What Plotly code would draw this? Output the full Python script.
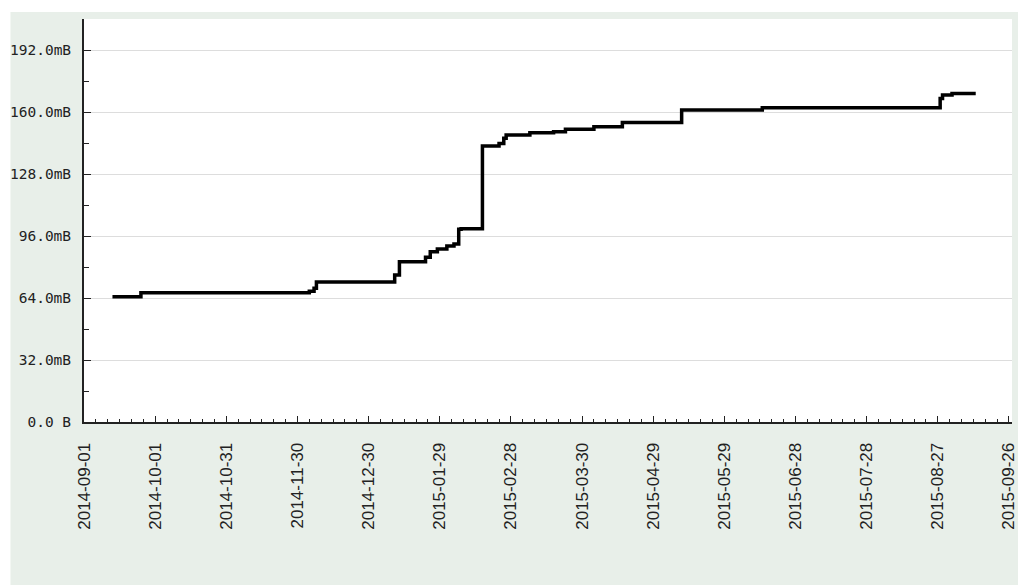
import plotly.graph_objects as go

# Data (step series, MB)
dates = [
    "2014-09-13", "2014-09-25", "2014-12-05", "2014-12-07", "2014-12-08",
    "2015-01-10", "2015-01-12", "2015-01-14", "2015-01-23", "2015-01-25",
    "2015-01-28", "2015-02-01", "2015-02-04", "2015-02-06", "2015-02-07",
    "2015-02-16", "2015-02-23", "2015-02-25", "2015-02-26", "2015-03-08",
    "2015-03-18", "2015-03-23", "2015-04-04", "2015-04-16", "2015-05-11",
    "2015-06-14", "2015-08-28", "2015-08-29", "2015-09-02", "2015-09-12",
]
values = [
    64.6, 66.7, 67.5, 69.0, 72.2,
    75.9, 82.7, 82.7, 85.0, 87.9,
    89.3, 90.8, 91.9, 99.5, 99.8,
    142.5, 143.8, 146.4, 148.1, 149.3,
    149.8, 151.1, 152.4, 154.6, 161.0,
    162.2, 167.0, 168.8, 169.6, 169.6,
]

ytick_vals = [0, 32, 64, 96, 128, 160, 192]
ytick_text = ["0.0 B", "32.0mB", "64.0mB", "96.0mB", "128.0mB", "160.0mB", "192.0mB"]

GREEN = "#e8efe9"

fig = go.Figure()
fig.add_trace(go.Scatter(
    x=dates, y=values, mode="lines",
    line=dict(color="black", width=3.5, shape="hv"),
    hoverinfo="skip", showlegend=False,
))

W, H = 1018, 585
L, R, T, B = 84, 0, 19, 163
pw, ph = W - L - R, H - T - B

fig.update_layout(
    width=W, height=H,
    margin=dict(l=L, r=R, t=T, b=B),
    paper_bgcolor=GREEN,
    plot_bgcolor="white",
    showlegend=False,
    xaxis=dict(
        type="date",
        range=["2014-09-01", "2015-09-27 07:00"],
        tick0="2014-09-01",
        dtick=30 * 86400000,
        tickformat="%Y-%m-%d",
        tickangle=-90,
        ticks="inside", ticklen=6, tickwidth=1, tickcolor="#222",
        minor=dict(ticks="inside", ticklen=3, tickwidth=1, tickcolor="#222",
                   dtick=5 * 86400000, tick0="2014-09-01", showgrid=False),
        showgrid=False, zeroline=False,
        showline=True, linecolor="#222", linewidth=2,
        tickfont=dict(family="Liberation Sans", size=17, color="#222"),
        ticklabelstandoff=12,
        ticklabeloverflow="allow",
        fixedrange=True,
    ),
    yaxis=dict(
        range=[0, 208],
        tickmode="array", tickvals=ytick_vals, ticktext=ytick_text,
        ticks="inside", ticklen=7, tickwidth=1, tickcolor="#222",
        minor=dict(ticks="inside", ticklen=5, tickwidth=1, tickcolor="#222",
                   tickmode="linear", tick0=0, dtick=16, showgrid=False),
        showgrid=True, gridcolor="#dddddd", gridwidth=1,
        zeroline=False,
        showline=True, linecolor="#222", linewidth=2,
        tickfont=dict(family="DejaVu Sans Mono", size=14.5, color="#222"),
        ticklabelstandoff=8,
        fixedrange=True,
    ),
    shapes=[
        # white band along the top (12 px) and left edge (10 px)
        dict(type="rect", xref="paper", yref="paper",
             x0=-0.2, x1=1.1, y0=(ph + T - 12) / ph, y1=1.2,
             fillcolor="white", line=dict(width=0), layer="below"),
        dict(type="rect", xref="paper", yref="paper",
             x0=-0.2, x1=(10 - L) / pw, y0=-0.6, y1=1.2,
             fillcolor="white", line=dict(width=0), layer="below"),
    ],
)

fig.write_html(
    "out.html",
    config={"displayModeBar": False, "staticPlot": True},
    post_script="document.body.style.margin='0';document.body.style.overflow='hidden';",
)
